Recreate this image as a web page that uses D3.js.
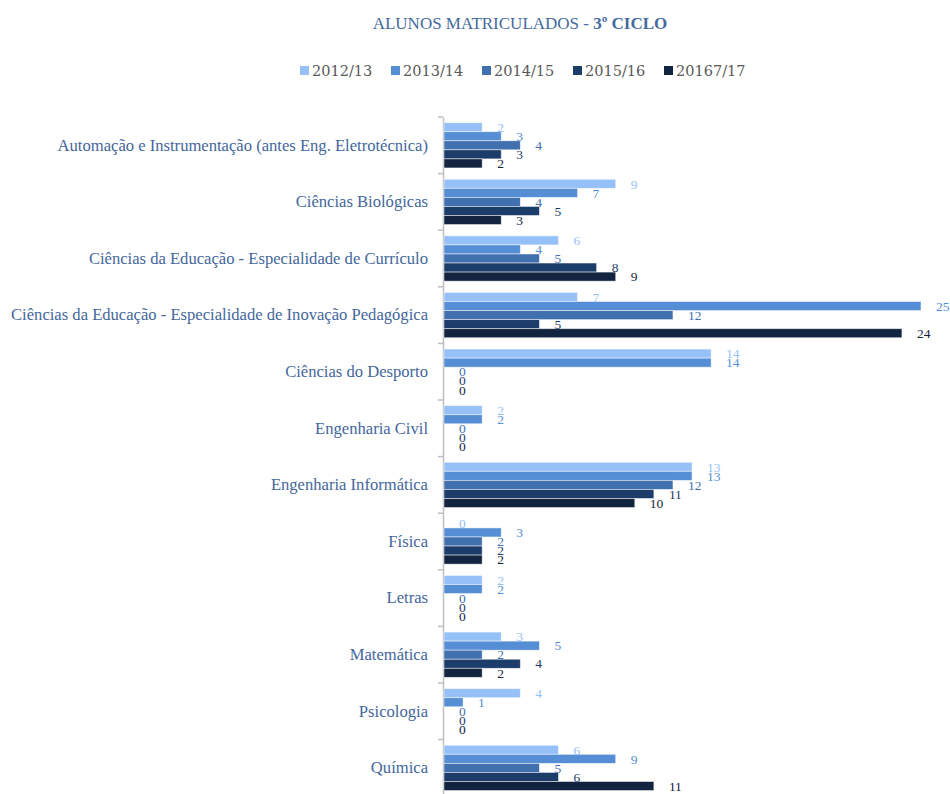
<!DOCTYPE html>
<html><head><meta charset="utf-8">
<script src="https://cdn.jsdelivr.net/npm/d3@7"></script>
<style>body{margin:0;background:#fff}svg{display:block}</style>
</head><body>
<svg id="c" width="950" height="794"></svg>
<script>
const categories = [
  "Automação e Instrumentação (antes Eng. Eletrotécnica)",
  "Ciências Biológicas",
  "Ciências da Educação - Especialidade de Currículo",
  "Ciências da Educação - Especialidade de Inovação Pedagógica",
  "Ciências do Desporto",
  "Engenharia Civil",
  "Engenharia Informática",
  "Física",
  "Letras",
  "Matemática",
  "Psicologia",
  "Química"
];
const seriesNames = ["2012/13","2013/14","2014/15","2015/16","20167/17"];
const v2012 = [2,9,6,7,14,2,13,0,2,3,4,6];
const v2013 = [3,7,4,25,14,2,13,3,2,5,1,9];
const v2014 = [4,4,5,12,0,0,12,2,0,2,0,5];
const v2015 = [3,5,8,5,0,0,11,2,0,4,0,6];
const v2016 = [2,3,9,24,0,0,10,2,0,2,0,11];
const seriesValues = [v2012,v2013,v2014,v2015,v2016];
const colors = ["#96C0F8","#558ED5","#4170AF","#1C3C6A","#12243F"];

const svg = d3.select("#c");
const font = "'Liberation Serif', 'DejaVu Serif', serif";

// title
const title = svg.append("text").attr("x",520).attr("y",29).attr("text-anchor","middle")
  .attr("font-family",font).attr("font-size",17).attr("fill","#456A9E");
title.append("tspan").text("ALUNOS MATRICULADOS - ");
title.append("tspan").attr("font-weight","bold").text("3º CICLO");

// legend
const legX = d3.scalePoint().domain(seriesNames).range([300,664]);
const leg = svg.append("g").selectAll("g").data(seriesNames).join("g")
  .attr("transform", d => `translate(${legX(d)},66)`);
leg.append("rect").attr("width",9).attr("height",9).attr("fill",(d,i)=>colors[i]);
leg.append("text").attr("x",12).attr("y",10).attr("font-family","'DejaVu Serif', serif").attr("font-size",14.5)
  .attr("fill","#595959").text(d=>d);

// scales
const x = d3.scaleLinear().domain([0,25]).range([444,921]);
const y = d3.scaleBand().domain(categories).range([117, 117+12*56.6]).padding(0);
const ys = d3.scaleBand().domain(d3.range(5)).range([y.bandwidth()*0.1, y.bandwidth()*0.9]);

// axis
const axis = svg.append("g").attr("transform","translate(443,0)")
  .call(d3.axisLeft(y).tickSize(0).tickPadding(15));
axis.select(".domain").attr("stroke","#BFBFBF").attr("stroke-width",1.5);
axis.selectAll("text").attr("font-family",font).attr("font-size",16.6).attr("fill","#44679C");
svg.append("g").selectAll("line").data(categories.concat([null])).join("line")
  .attr("x1",438).attr("x2",443)
  .attr("y1",d => d===null ? y.range()[1] : y(d))
  .attr("y2",d => d===null ? y.range()[1] : y(d))
  .attr("stroke","#BFBFBF").attr("stroke-width",1.5);

// bars
const groups = svg.append("g").selectAll("g").data(categories).join("g")
  .attr("transform", d => `translate(0,${y(d)})`);
groups.each(function(cat, ci){
  const g = d3.select(this);
  const data = seriesValues.map((s,si)=>({si, v:s[ci]}));
  g.selectAll("rect").data(data).join("rect")
    .attr("x", x(0)).attr("y", d=>ys(d.si))
    .attr("width", d=>x(d.v)-x(0)).attr("height", ys.bandwidth())
    .attr("fill", d=>colors[d.si])
    .attr("stroke", d=> d.v>0 ? "rgba(255,255,255,0.6)" : "none").attr("stroke-width",0.8);
  g.selectAll("text").data(data).join("text")
    .attr("x", d=>x(d.v)+15).attr("y", d=>ys(d.si)+ys.bandwidth()/2).attr("dy","0.35em")
    .attr("font-family",font).attr("font-size",13.5).attr("fill",d=>colors[d.si])
    .text(d=>d.v);
});
</script>
</body></html>
